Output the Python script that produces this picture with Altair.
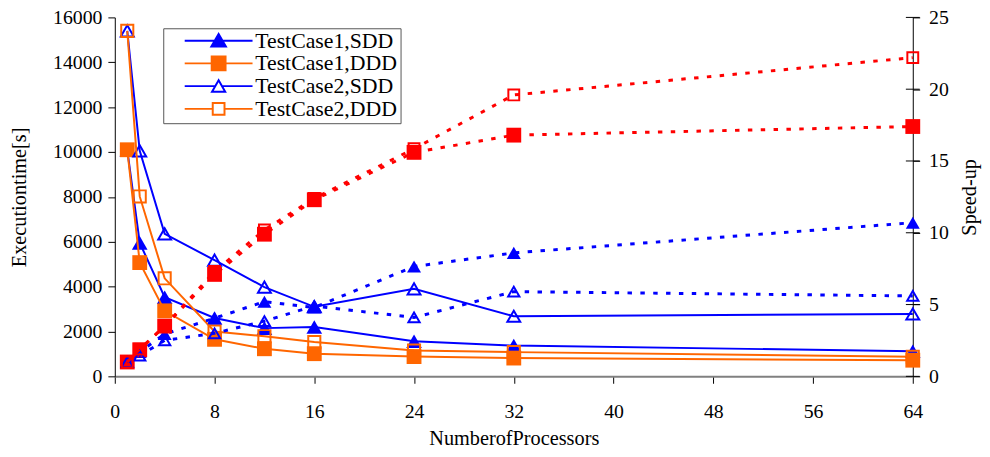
import altair as alt
import pandas as pd

# ---------------- data ----------------
procs = [1, 2, 4, 8, 12, 16, 24, 32, 64]
series_names = ["TestCase1,SDD", "TestCase1,DDD", "TestCase2,SDD", "TestCase2,DDD"]

# execution time [s] (left axis, solid lines)
time_tc1_sdd = [10100, 5950, 3530, 2600, 2150, 2200, 1560, 1370, 1120]
time_tc1_ddd = [10100, 5070, 2920, 1650, 1230, 1010, 880, 815, 720]
time_tc2_sdd = [15400, 10050, 6350, 5180, 3980, 3100, 3900, 2680, 2780]
time_tc2_ddd = [15400, 8020, 4370, 2000, 1790, 1530, 1150, 1080, 870]

# speed-up (right axis, dotted lines)
speed_tc1_sdd = [1.0, 1.7, 2.95, 4.05, 5.2, 4.8, 7.65, 8.6, 10.7]
speed_tc1_ddd = [1.0, 1.85, 3.5, 7.1, 9.9, 12.3, 15.6, 16.8, 17.4]
speed_tc2_sdd = [1.0, 1.45, 2.5, 3.0, 3.85, 4.9, 4.1, 5.9, 5.6]
speed_tc2_ddd = [1.0, 1.9, 3.5, 7.3, 10.2, 12.4, 15.85, 19.6, 22.2]

x_ticks = [0, 8, 16, 24, 32, 40, 48, 56, 64]
left_ticks = [0, 2000, 4000, 6000, 8000, 10000, 12000, 14000, 16000]
right_ticks = [0, 5, 10, 15, 20, 25]

times = [time_tc1_sdd, time_tc1_ddd, time_tc2_sdd, time_tc2_ddd]
speeds = [speed_tc1_sdd, speed_tc1_ddd, speed_tc2_sdd, speed_tc2_ddd]

rows = []
for name, tl, sl in zip(series_names, times, speeds):
    for p, t, s in zip(procs, tl, sl):
        rows.append({"procs": p, "series": name, "time": t, "speed": s})
df = pd.DataFrame(rows)

# right axis ticks cross the axis line (drawn at the x-domain end, x = 64)
rtick_df = pd.DataFrame({"procs": [x_ticks[-1]] * len(right_ticks), "speed": right_ticks})

# ---------------- styles ----------------
BLUE = "#0000FF"
ORANGE = "#FF6600"
RED = "#FF0000"
FONT = "Liberation Serif"
TICK_FS = 20
TITLE_FS = 20.5

style = {
    "TestCase1,SDD": dict(ec=BLUE, sc=BLUE, shape="triangle-up", filled=True, esize=250, ssize=200, sw=1),
    "TestCase1,DDD": dict(ec=ORANGE, sc=RED, shape="square", filled=True, esize=225, ssize=225, sw=1),
    "TestCase2,SDD": dict(ec=BLUE, sc=BLUE, shape="triangle-up", filled=False, esize=170, ssize=130, sw=2),
    "TestCase2,DDD": dict(ec=ORANGE, sc=RED, shape="square", filled=False, esize=150, ssize=121, sw=2),
}

legend_paths = [
    "M-4.9,0H4.9M0,-0.95L1.05,0.85L-1.05,0.85Z",
    "M-4.9,0H4.9M-1,-1H1V1H-1Z",
    "M-4.9,0H-0.5M0.5,0H4.9M0,-0.85L0.95,0.8L-0.95,0.8Z",
    "M-4.9,0H-0.85M0.85,0H4.9M-0.85,-0.85H0.85V0.85H-0.85Z",
]

x_axis = alt.Axis(values=x_ticks, title="NumberofProcessors", grid=False, tickSize=7,
                  labelPadding=19, titlePadding=7, domainColor="#808080", domainWidth=2,
                  tickColor="black", labelFlush=False, labelFont=FONT, labelFontSize=TICK_FS,
                  labelColor="black", titleFont=FONT, titleFontSize=TITLE_FS,
                  titleFontWeight="normal", titleColor="black")
left_axis = alt.Axis(values=left_ticks, format="d", title="Executiontime[s]", grid=False,
                     tickSize=7, labelPadding=6, titlePadding=23, domainColor="black",
                     tickColor="black", labelFont=FONT, labelFontSize=TICK_FS, labelColor="black",
                     titleFont=FONT, titleFontSize=TITLE_FS, titleFontWeight="normal",
                     titleColor="black")
right_axis = alt.Axis(values=right_ticks, orient="right", title="Speed-up", grid=False,
                      tickSize=7, labelPadding=9, titlePadding=11, domainColor="black",
                      tickColor="black", labelFont=FONT, labelFontSize=TICK_FS, labelColor="black",
                      titleFont=FONT, titleFontSize=TITLE_FS, titleFontWeight="normal",
                      titleColor="black", titleAngle=270, titleBaseline="top")


def xenc():
    return alt.X("procs:Q", scale=alt.Scale(domain=[0, 64], nice=False, zero=False), axis=x_axis)


def yexec():
    return alt.Y("time:Q", scale=alt.Scale(domain=[0, 16000], nice=False), axis=left_axis)


def yspeed():
    return alt.Y("speed:Q", scale=alt.Scale(domain=[0, 25], nice=False), axis=right_axis)


exec_layers = []
speed_layers = []
for name in series_names:
    st = style[name]
    base = alt.Chart(df).transform_filter(alt.datum.series == name)
    exec_layers.append(base.mark_line(color=st["ec"], strokeWidth=2).encode(x=xenc(), y=yexec()))
    exec_layers.append(base.mark_point(shape=st["shape"], filled=st["filled"], size=st["esize"],
                                       color=st["ec"], strokeWidth=st["sw"], opacity=1)
                       .encode(x=xenc(), y=yexec()))
    speed_layers.append(base.mark_line(color=st["sc"], strokeWidth=3, strokeDash=[4.5, 8.5],
                                       strokeCap="butt").encode(x=xenc(), y=yspeed()))
    speed_layers.append(base.mark_point(shape=st["shape"], filled=st["filled"], size=st["ssize"],
                                        color=st["sc"], strokeWidth=st["sw"], opacity=1)
                        .encode(x=xenc(), y=yspeed()))

rtick_layer = alt.Chart(rtick_df).mark_tick(
    orient="horizontal", size=14, thickness=1, color="black", opacity=1
).encode(x=xenc(), y=yspeed())

leg = alt.Legend(title=None, orient="none", legendX=49, legendY=11, padding=3,
                 symbolOffset=42, labelOffset=26, labelFont=FONT, labelFontSize=22,
                 labelColor="black", strokeColor="#555555", fillColor="white",
                 rowPadding=0, clipHeight=19, symbolSize=196, symbolStrokeWidth=2,
                 cornerRadius=0, labelBaseline="middle")

legend_layer = alt.Chart(df).transform_filter("false").mark_point(
    size=196, strokeWidth=2, opacity=1).encode(
    x=xenc(), y=yexec(),
    stroke=alt.Stroke("series:N", scale=alt.Scale(domain=series_names,
                                                  range=[BLUE, ORANGE, BLUE, ORANGE]), legend=leg),
    fill=alt.Fill("series:N", scale=alt.Scale(domain=series_names,
                                              range=[BLUE, ORANGE, "white", "white"]), legend=leg),
    shape=alt.Shape("series:N", scale=alt.Scale(domain=series_names, range=legend_paths),
                    legend=leg),
)

chart = alt.layer(
    alt.layer(*exec_layers, legend_layer),
    alt.layer(rtick_layer, *speed_layers),
).resolve_scale(y="independent").properties(
    width=807, height=363,
    padding={"left": 108, "top": 7, "right": 70, "bottom": 74},
    autosize=alt.AutoSizeParams(type="none"),
    background="white",
).configure_view(strokeWidth=0)

chart.save("out.html", embed_options={"renderer": "svg", "actions": False})
